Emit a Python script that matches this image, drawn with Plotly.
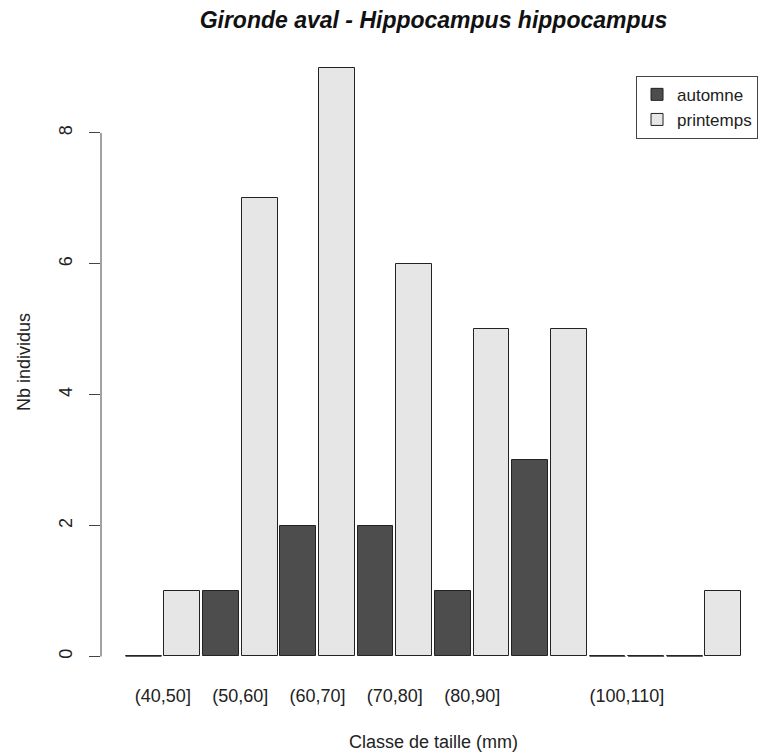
import plotly.graph_objects as go

categories = ["(40,50]", "(50,60]", "(60,70]", "(70,80]", "(80,90]",
              "(90,100]", "(100,110]", "(110,120]"]
automne = [0, 1, 2, 2, 1, 3, 0, 0]
printemps = [1, 7, 9, 6, 5, 5, 0, 1]
# labels R could draw without overlap
shown = [True, True, True, True, True, False, True, False]

FONT = "Liberation Sans, Arial, Helvetica, sans-serif"
DARK = "#4d4d4d"
LIGHT = "#e6e6e6"
BW = 0.93

n = len(categories)
x_aut = [2 * i + 0.5 for i in range(n)]
x_pri = [2 * i + 1.5 for i in range(n)]
centers = [2 * i + 1 for i in range(n)]

fig = go.Figure()
fig.add_trace(go.Bar(x=x_aut, y=automne, width=BW, name="automne",
                     marker=dict(color=DARK, line=dict(color="#222", width=1))))
fig.add_trace(go.Bar(x=x_pri, y=printemps, width=BW, name="printemps",
                     marker=dict(color=LIGHT, line=dict(color="#222", width=1))))

# zero-height bars: R draws them as a flat outline
zx, zy = [], []
for xs, vals in ((x_aut, automne), (x_pri, printemps)):
    for xc, v in zip(xs, vals):
        if v == 0:
            zx += [xc - BW / 2, xc + BW / 2, None]
            zy += [0, 0, None]
fig.add_trace(go.Scatter(x=zx, y=zy, mode="lines", showlegend=False,
                         line=dict(color="#555", width=1), hoverinfo="skip"))

ymax = max(max(automne), max(printemps))
fig.add_shape(type="line", xref="paper", yref="y", x0=0, x1=0, y0=0, y1=8,
              line=dict(color="#444", width=1))

fig.update_layout(
    width=773, height=756,
    margin=dict(l=101, r=7, t=44, b=76, autoexpand=False),
    paper_bgcolor="white", plot_bgcolor="white",
    font=dict(family=FONT, size=18, color="#222"),
    title=dict(text="<b><i>Gironde aval - Hippocampus hippocampus</i></b>",
               x=0.5, xref="paper", xanchor="center", y=0.973, yanchor="middle",
               font=dict(size=23, color="#111")),
    showlegend=True,
    legend=dict(x=0.988, y=0.95, xanchor="right", yanchor="top",
                bordercolor="#444", borderwidth=1, bgcolor="white",
                font=dict(size=17), itemwidth=30, tracegroupgap=0),
    bargap=0,
)
fig.update_xaxes(range=[-0.6, 2 * n + 0.6], showgrid=False, zeroline=False,
                 showline=False, ticks="",
                 tickvals=centers,
                 ticktext=[c if s else "" for c, s in zip(categories, shown)],
                 ticklabelstandoff=3, automargin=False,
                 title=dict(text="Classe de taille (mm)", standoff=30,
                            font=dict(size=18)))
fig.update_yaxes(range=[-0.36 / 9 * ymax, ymax * 1.04], showgrid=False,
                 zeroline=False, showline=False, automargin=False,
                 tickvals=[0, 2, 4, 6, 8], ticks="outside", ticklen=11,
                 tickcolor="#444", tickangle=-90, ticklabelstandoff=10,
                 title=dict(text="Nb individus", standoff=20,
                            font=dict(size=18)))

fig.write_html("out.html")
